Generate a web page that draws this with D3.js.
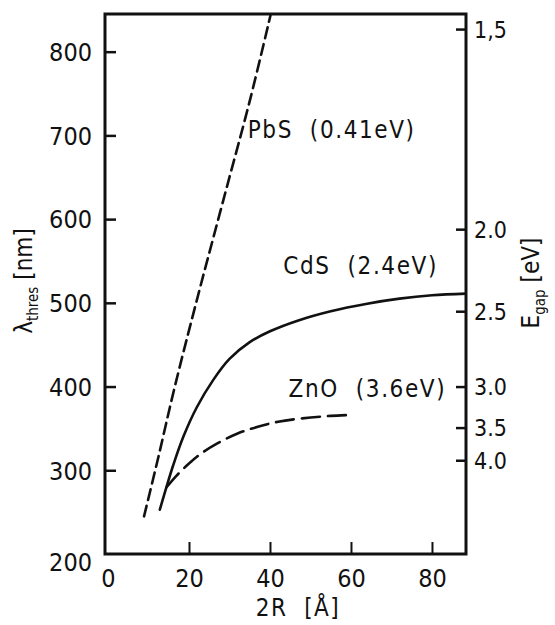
<!DOCTYPE html>
<html>
<head>
<meta charset="utf-8">
<script src="https://cdn.jsdelivr.net/npm/d3@7"></script>
<style>
  html, body { margin: 0; padding: 0; background: #fff; }
  svg { display: block; }
  text { font-family: "DejaVu Sans Condensed", "DejaVu Sans", sans-serif; fill: #111; }
</style>
</head>
<body>
<svg id="chart" width="555" height="625"></svg>
<script>
// ---- data ----
const xTickValues = [0, 20, 40, 60, 80];
const yTickValues = [200, 300, 400, 500, 600, 700, 800];
const egapTickLabels = ["1,5", "2.0", "2.5", "3.0", "3.5", "4.0"];
const egapTickLambda = [827, 588, 490, 400, 351, 312];

const pbsX = [8.9, 12.4, 16.5, 22.3, 28.5, 35.1, 40.2];
const pbsY = [245, 315, 400, 510, 623, 743, 845];

const cdsX = [12.8, 14.5, 16.1, 18.6, 21.9, 26.0, 30.0, 35.0, 40.0, 47.0, 55.0, 64.0, 72.0, 80.0, 88.4];
const cdsY = [253, 281, 306, 340, 375, 408, 433, 453, 466, 479, 490, 499, 505, 509, 511];

const znoX = [14.5, 17.0, 20.0, 23.0, 27.0, 32.0, 37.0, 42.0, 48.0, 55.0, 59.3];
const znoY = [280, 294, 308, 320, 332, 344, 352, 358, 362, 365, 366];

const seriesNames = ["PbS (0.41eV)", "CdS (2.4eV)", "ZnO (3.6eV)"];
const labelX = [34.5, 43.3, 44.6];
const labelY = [707, 545, 398];

// ---- layout ----
const svg = d3.select("#chart");
const L = 105, R = 466, T = 14, B = 554;
const x = d3.scaleLinear().domain([-0.74, 88.4]).range([L, R]);
const y = d3.scaleLinear().domain([200, 845]).range([B, T]);

const FS = 25;

// frame
svg.append("rect").attr("x", L).attr("y", T).attr("width", R - L).attr("height", B - T)
  .attr("fill", "none").attr("stroke", "#111").attr("stroke-width", 3);

// bottom axis
const gx = svg.append("g").attr("transform", `translate(0,${B})`)
  .call(d3.axisBottom(x).tickValues(xTickValues).tickSize(-12).tickPadding(10).tickFormat(d3.format("d")));
gx.select(".domain").remove();
gx.selectAll(".tick line").attr("stroke", "#111").attr("stroke-width", 2)
  .filter(d => d === 0).remove();
gx.selectAll(".tick text").attr("font-size", FS).attr("font-family", null).attr("dy", "0.9em");

// left axis
const gy = svg.append("g").attr("transform", `translate(${L},0)`)
  .call(d3.axisLeft(y).tickValues(yTickValues).tickSize(-11).tickPadding(13).tickFormat(d3.format("d")));
gy.select(".domain").remove();
gy.selectAll(".tick line").attr("stroke", "#111").attr("stroke-width", 2.5)
  .filter(d => d === 200).remove();
gy.selectAll(".tick text").attr("font-size", FS).attr("font-family", null)
  .attr("dy", d => d === 200 ? "0.65em" : "0.35em");

// right axis (E_gap)
const gr = svg.append("g").attr("transform", `translate(${R},0)`)
  .call(d3.axisRight(y).tickValues(egapTickLambda).tickSize(-10).tickPadding(8)
    .tickFormat((d, i) => egapTickLabels[i]));
gr.select(".domain").remove();
gr.selectAll(".tick line").attr("stroke", "#111").attr("stroke-width", 2.5);
gr.selectAll(".tick text").attr("font-size", FS - 2).attr("font-family", null).attr("dy", "0.35em");

// curves
const clipId = "plotclip";
svg.append("clipPath").attr("id", clipId).append("rect")
  .attr("x", L).attr("y", T).attr("width", R - L).attr("height", B - T);

const series = [
  { xs: pbsX, ys: pbsY, dash: "11,6" },
  { xs: cdsX, ys: cdsY, dash: null },
  { xs: znoX, ys: znoY, dash: "18,8" }
];
const lineGen = d3.line().x(d => x(d[0])).y(d => y(d[1])).curve(d3.curveCatmullRom.alpha(0.5));
series.forEach(s => {
  const pts = s.xs.map((v, i) => [v, s.ys[i]]);
  svg.append("path")
    .attr("d", lineGen(pts))
    .attr("fill", "none").attr("stroke", "#111").attr("stroke-width", 2.6)
    .attr("stroke-linecap", "round")
    .attr("stroke-dasharray", s.dash)
    .attr("clip-path", `url(#${clipId})`);
});

// series labels
seriesNames.forEach((name, i) => {
  svg.append("text").attr("x", x(labelX[i])).attr("y", y(labelY[i]))
    .attr("dy", "0.35em").attr("font-size", 24).attr("letter-spacing", 1.6)
    .attr("xml:space", "preserve").text(name.replace(" ", "  "));
});

// axis titles
svg.append("text").attr("x", 298).attr("y", 608).attr("dy", "0.35em")
  .attr("text-anchor", "middle").attr("font-size", 24).attr("letter-spacing", 1.5)
  .attr("xml:space", "preserve").text("2R  [Å]");

const lt = svg.append("text").attr("transform", "translate(24,281) rotate(-90)")
  .attr("text-anchor", "middle").attr("dy", "0.35em").attr("font-size", 24);
lt.append("tspan").text("λ");
lt.append("tspan").attr("font-size", 15).attr("dy", "0.35em").text("thres");
lt.append("tspan").attr("dy", "-0.25em").text(" [nm]");

const rt = svg.append("text").attr("transform", "translate(531,283) rotate(-90)")
  .attr("text-anchor", "middle").attr("dy", "0.35em").attr("font-size", 24);
rt.append("tspan").text("E");
rt.append("tspan").attr("font-size", 15).attr("dy", "0.35em").text("gap");
rt.append("tspan").attr("dy", "-0.25em").text(" [eV]");
</script>
</body>
</html>
